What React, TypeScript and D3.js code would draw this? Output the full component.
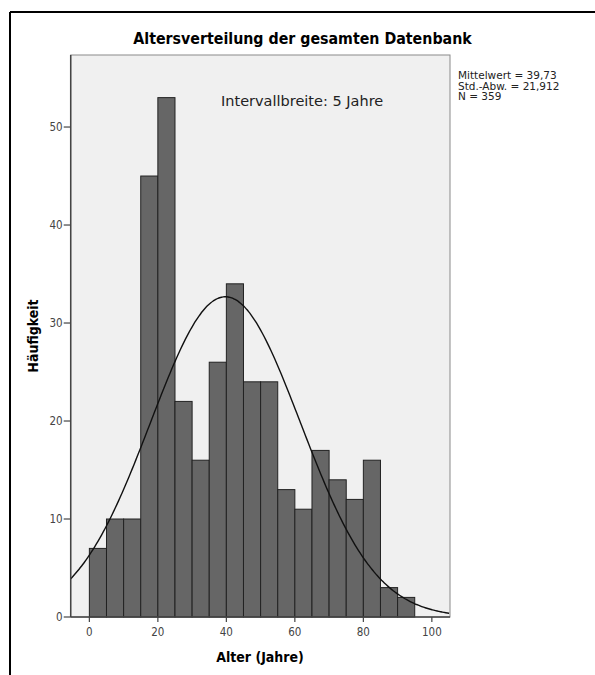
import React from "react";
import * as d3 from "d3";

// 5-year age bins (lower bound) and counts
const binStarts = [0, 5, 10, 15, 20, 25, 30, 35, 40, 45, 50, 55, 60, 65, 70, 75, 80, 85, 90];
const counts = [7, 10, 10, 45, 53, 22, 16, 26, 34, 24, 24, 13, 11, 17, 14, 12, 16, 3, 2];
const binWidth = 5;

const xTicks = [0, 20, 40, 60, 80, 100];
const yTicks = [0, 10, 20, 30, 40, 50];

const mean = 39.73;
const sd = 21.912;
const n = 359;

const statLines = ["Mittelwert = 39,73", "Std.-Abw. = 21,912", "N = 359"];

const W = 595;
const H = 675;
const plot = { left: 70.7, right: 450, top: 55, bottom: 617 };

const font = "'DejaVu Sans', sans-serif";

export default function App() {
  const x = d3.scaleLinear().domain([-5.45, 105.3]).range([plot.left, plot.right]);
  const y = d3.scaleLinear().domain([0, 57.35]).range([plot.bottom, plot.top]);

  // normal curve scaled to counts
  const curvePts = d3.range(x.domain()[0], x.domain()[1] + 0.01, 0.5).map((v) => {
    const z = (v - mean) / sd;
    const dens = Math.exp(-0.5 * z * z) / (sd * Math.sqrt(2 * Math.PI));
    return [v, dens * n * binWidth] as [number, number];
  });
  const line = d3
    .line<[number, number]>()
    .x((d) => x(d[0]))
    .y((d) => y(d[1]))
    .curve(d3.curveBasis);

  return (
    <svg width={W} height={H} style={{ position: "absolute", left: 0, top: 0 }}>
      <rect width={W} height={H} fill="#fff" />
      {/* outer frame */}
      <line x1={10} y1={12} x2={W} y2={12} stroke="#000" strokeWidth={2} />
      <line x1={10} y1={12} x2={10} y2={H} stroke="#000" strokeWidth={2} />

      <text x={302.5} y={44} textAnchor="middle" fontFamily={font} fontSize={15.8} fontWeight="bold" style={{ fontStretch: "condensed" }}>
        Altersverteilung der gesamten Datenbank
      </text>

      {/* plot background */}
      <rect
        x={plot.left}
        y={plot.top}
        width={plot.right - plot.left}
        height={plot.bottom - plot.top}
        fill="#f0f0f0"
        stroke="#8a8a8a"
        strokeWidth={1}
      />

      <defs>
        <clipPath id="plotClip">
          <rect x={plot.left} y={plot.top} width={plot.right - plot.left} height={plot.bottom - plot.top} />
        </clipPath>
      </defs>

      {binStarts.map((b, i) => (
        <rect
          key={b}
          x={x(b)}
          y={y(counts[i])}
          width={x(b + binWidth) - x(b)}
          height={y(0) - y(counts[i])}
          fill="#666666"
          stroke="#222"
          strokeWidth={1}
        />
      ))}

      <path d={line(curvePts) || ""} fill="none" stroke="#111" strokeWidth={1.4} clipPath="url(#plotClip)" />

      <text x={221} y={106} fontFamily={font} fontSize={14.5} fill="#222">
        Intervallbreite: 5 Jahre
      </text>

      {/* axes */}
      <line x1={plot.left} y1={plot.top} x2={plot.left} y2={plot.bottom} stroke="#444" strokeWidth={1.5} />
      <line x1={plot.left} y1={plot.bottom} x2={plot.right} y2={plot.bottom} stroke="#444" strokeWidth={1.5} />

      {yTicks.map((t) => (
        <g key={t}>
          <line x1={plot.left - 7} x2={plot.left} y1={y(t)} y2={y(t)} stroke="#444" strokeWidth={1.2} />
          <text
            x={plot.left - 8}
            y={y(t)}
            dy="0.36em"
            textAnchor="end"
            fontFamily={font}
            fontSize={11.5}
            fill="#444"
            style={{ fontStretch: "condensed" }}
          >
            {t}
          </text>
        </g>
      ))}
      {xTicks.map((t) => (
        <g key={t}>
          <line x1={x(t)} x2={x(t)} y1={plot.bottom} y2={plot.bottom + 5} stroke="#444" strokeWidth={1.2} />
          <text
            x={x(t)}
            y={plot.bottom + 19}
            textAnchor="middle"
            fontFamily={font}
            fontSize={11.5}
            fill="#444"
            style={{ fontStretch: "condensed" }}
          >
            {t}
          </text>
        </g>
      ))}

      <text x={260} y={662} textAnchor="middle" fontFamily={font} fontSize={14} fontWeight="bold" style={{ fontStretch: "condensed" }}>
        Alter (Jahre)
      </text>
      <text
        transform={`translate(38,336) rotate(-90)`}
        textAnchor="middle"
        fontFamily={font}
        fontSize={14}
        fontWeight="bold"
        style={{ fontStretch: "condensed" }}
      >
        Häufigkeit
      </text>

      {statLines.map((s, i) => (
        <text key={s} x={458} y={79 + i * 10.5} fontFamily={font} fontSize={10.5} fill="#222">
          {s}
        </text>
      ))}
    </svg>
  );
}
